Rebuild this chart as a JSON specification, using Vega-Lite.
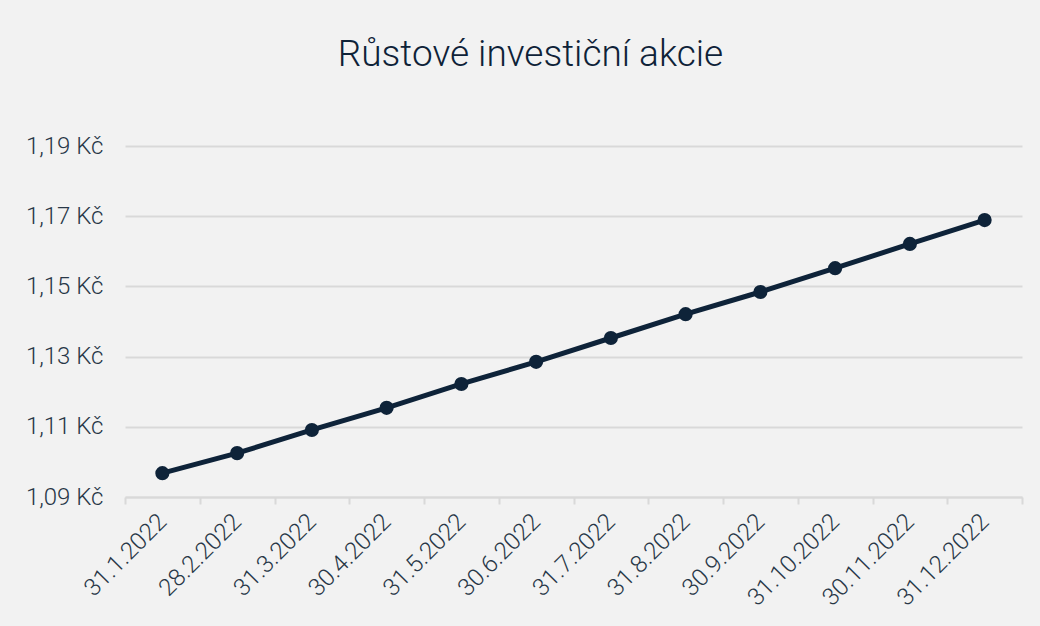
{
  "$schema": "https://vega.github.io/schema/vega-lite/v6.json",
  "width": 897,
  "height": 351,
  "autosize": {"type": "none"},
  "padding": {"left": 125, "top": 146, "right": 18, "bottom": 129},
  "background": "#f2f2f2",
  "title": {
    "text": "Růstové investiční akcie",
    "font": "Roboto",
    "fontSize": 37,
    "fontWeight": 300,
    "color": "#0e2238",
    "anchor": "middle",
    "baseline": "alphabetic",
    "dx": -43,
    "offset": 31
  },
  "config": {
    "view": {"stroke": null},
    "font": "Roboto"
  },
  "data": {
    "values": [
      {"datum": "31.1.2022", "value": 1.0968},
      {"datum": "28.2.2022", "value": 1.1025},
      {"datum": "31.3.2022", "value": 1.1091},
      {"datum": "30.4.2022", "value": 1.1154},
      {"datum": "31.5.2022", "value": 1.1222},
      {"datum": "30.6.2022", "value": 1.1285},
      {"datum": "31.7.2022", "value": 1.1353},
      {"datum": "31.8.2022", "value": 1.1421},
      {"datum": "30.9.2022", "value": 1.1484},
      {"datum": "31.10.2022", "value": 1.1552},
      {"datum": "30.11.2022", "value": 1.1621},
      {"datum": "31.12.2022", "value": 1.1689}
    ]
  },
  "encoding": {
    "x": {
      "field": "datum",
      "type": "ordinal",
      "sort": null,
      "scale": {"type": "band", "paddingInner": 0, "paddingOuter": 0},
      "axis": {
        "title": null,
        "tickBand": "extent",
        "labelAngle": -45,
        "labelAlign": "right",
        "labelBaseline": "middle",
        "labelFont": "Roboto",
        "labelFontWeight": 300,
        "labelFontSize": 24,
        "labelColor": "#283747",
        "labelPadding": 14,
        "domainColor": "#d9d9d9",
        "domainWidth": 2,
        "tickColor": "#d9d9d9",
        "tickWidth": 2,
        "tickSize": 7,
        "grid": false
      }
    },
    "y": {
      "field": "value",
      "type": "quantitative",
      "scale": {"domain": [1.09, 1.19], "zero": false, "nice": false},
      "axis": {
        "title": null,
        "values": [1.09, 1.11, 1.13, 1.15, 1.17, 1.19],
        "labelExpr": "replace(format(datum.value, '.2f'), '.', ',') + ' Kč'",
        "labelFont": "Roboto",
        "labelFontWeight": 300,
        "labelFontSize": 24,
        "labelColor": "#283747",
        "labelPadding": 22,
        "domain": false,
        "ticks": false,
        "grid": true,
        "gridColor": "#d9d9d9",
        "gridWidth": 2
      }
    }
  },
  "layer": [
    {
      "mark": {"type": "line", "color": "#0e2339", "strokeWidth": 5}
    },
    {
      "mark": {"type": "point", "filled": true, "opacity": 1, "color": "#0e2339", "size": 200}
    }
  ]
}
